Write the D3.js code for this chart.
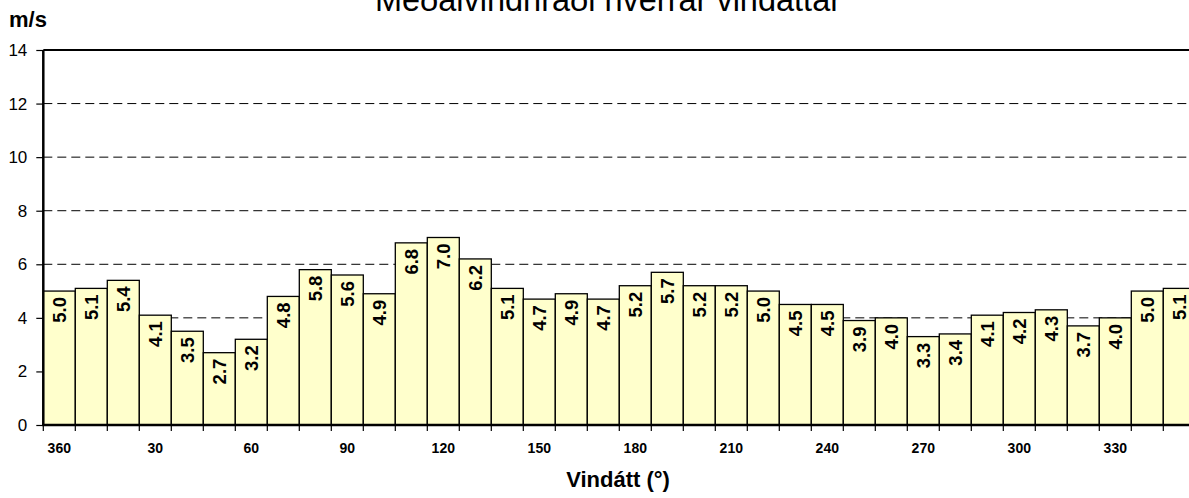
<!DOCTYPE html>
<html>
<head>
<meta charset="utf-8">
<script src="https://cdn.jsdelivr.net/npm/d3@7"></script>
<style>
  body { margin: 0; background: #fff; }
  svg { display: block; font-family: Arial, "Liberation Sans", sans-serif; }
</style>
</head>
<body>
<svg id="chart" width="1189" height="498"></svg>
<script>
// wind direction categories (degrees), 360 first
var directions = [360, 10, 20, 30, 40, 50, 60, 70, 80, 90, 100, 110, 120, 130, 140, 150, 160, 170,
  180, 190, 200, 210, 220, 230, 240, 250, 260, 270, 280, 290, 300, 310, 320, 330, 340, 350];
// mean wind speed per direction (m/s)
var meanSpeed = [5.0, 5.1, 5.4, 4.1, 3.5, 2.7, 3.2, 4.8, 5.8, 5.6, 4.9, 6.8, 7.0, 6.2, 5.1, 4.7, 4.9, 4.7,
  5.2, 5.7, 5.2, 5.2, 5.0, 4.5, 4.5, 3.9, 4.0, 3.3, 3.4, 4.1, 4.2, 4.3, 3.7, 4.0, 5.0, 5.1];
var labelledDirections = [360, 30, 60, 90, 120, 150, 180, 210, 240, 270, 300, 330];
var yTicks = [0, 2, 4, 6, 8, 10, 12, 14];

var svg = d3.select("#chart");
var plotLeft = 43.3, plotRight = 1195.3, plotTop = 50, plotBottom = 425;

var x = d3.scaleBand().domain(directions).range([plotLeft, plotRight]).padding(0);
var y = d3.scaleLinear().domain([0, 14]).range([plotBottom, plotTop]);

var data = directions.map(function(d, i) { return { dir: d, v: meanSpeed[i] }; });

// title (partly off the top of the page, as in the original)
svg.append("text")
  .attr("x", 608).attr("y", 11)
  .attr("text-anchor", "middle")
  .style("font-size", "32.5px")
  .text("Meðalvindhraði hverrar vindáttar");

svg.append("text")
  .attr("x", 9).attr("y", 27)
  .style("font-size", "22px").style("font-weight", "bold")
  .text("m/s");

// dashed gridlines
svg.append("g").selectAll("line")
  .data(yTicks.filter(function(t) { return t > 0 && t < 14; }))
  .enter().append("line")
  .attr("x1", plotLeft).attr("x2", 1189)
  .attr("y1", function(t) { return y(t); })
  .attr("y2", function(t) { return y(t); })
  .attr("stroke", "#000").attr("stroke-width", 1)
  .attr("stroke-dasharray", "9,5");

// bars
svg.append("g").selectAll("rect")
  .data(data)
  .enter().append("rect")
  .attr("x", function(d) { return x(d.dir); })
  .attr("y", function(d) { return y(d.v); })
  .attr("width", x.bandwidth())
  .attr("height", function(d) { return plotBottom - y(d.v); })
  .attr("fill", "#FFFFCC")
  .attr("stroke", "#000").attr("stroke-width", 1.3);

// value labels, rotated inside top of bar
svg.append("g").selectAll("text")
  .data(data)
  .enter().append("text")
  .attr("transform", function(d) {
    return "translate(" + (x(d.dir) + x.bandwidth() / 2 + 6.5) + "," + (y(d.v) + 6) + ") rotate(-90)";
  })
  .attr("text-anchor", "end")
  .style("font-size", "18.5px").style("font-weight", "bold")
  .text(function(d) { return d.v.toFixed(1); });

// top frame line
svg.append("line")
  .attr("x1", plotLeft).attr("x2", 1189)
  .attr("y1", plotTop).attr("y2", plotTop)
  .attr("stroke", "#000").attr("stroke-width", 2.2);

// y axis
var yAxis = svg.append("g")
  .attr("transform", "translate(" + plotLeft + ",0)")
  .call(d3.axisLeft(y).tickValues(yTicks).tickSize(7).tickPadding(9).tickFormat(d3.format("d")));
yAxis.select(".domain").attr("stroke-width", 2.5).attr("d", "M0," + plotTop + "V" + plotBottom);
yAxis.selectAll(".tick line").attr("stroke-width", 1.2);
yAxis.selectAll(".tick text")
  .style("font-size", "17px").style("font-family", "Arial, 'Liberation Sans', sans-serif");

// x axis: ticks at bar boundaries, labels every 30 degrees
var xAxisG = svg.append("g");
xAxisG.selectAll("line.tk")
  .data(directions)
  .enter().append("line")
  .attr("class", "tk")
  .attr("x1", function(d) { return x(d); }).attr("x2", function(d) { return x(d); })
  .attr("y1", plotBottom).attr("y2", plotBottom + 6)
  .attr("stroke", "#000").attr("stroke-width", 1.2);
xAxisG.append("line")
  .attr("x1", plotLeft - 1).attr("x2", 1189)
  .attr("y1", plotBottom).attr("y2", plotBottom)
  .attr("stroke", "#000").attr("stroke-width", 2.5);
xAxisG.selectAll("text")
  .data(labelledDirections)
  .enter().append("text")
  .attr("x", function(d) { return x(d) + x.bandwidth() / 2; })
  .attr("y", 453)
  .attr("text-anchor", "middle")
  .style("font-size", "14px").style("font-weight", "bold")
  .text(function(d) { return d; });

svg.append("text")
  .attr("x", 618).attr("y", 487)
  .attr("text-anchor", "middle")
  .style("font-size", "22px").style("font-weight", "bold")
  .text("Vindátt (°)");
</script>
</body>
</html>
